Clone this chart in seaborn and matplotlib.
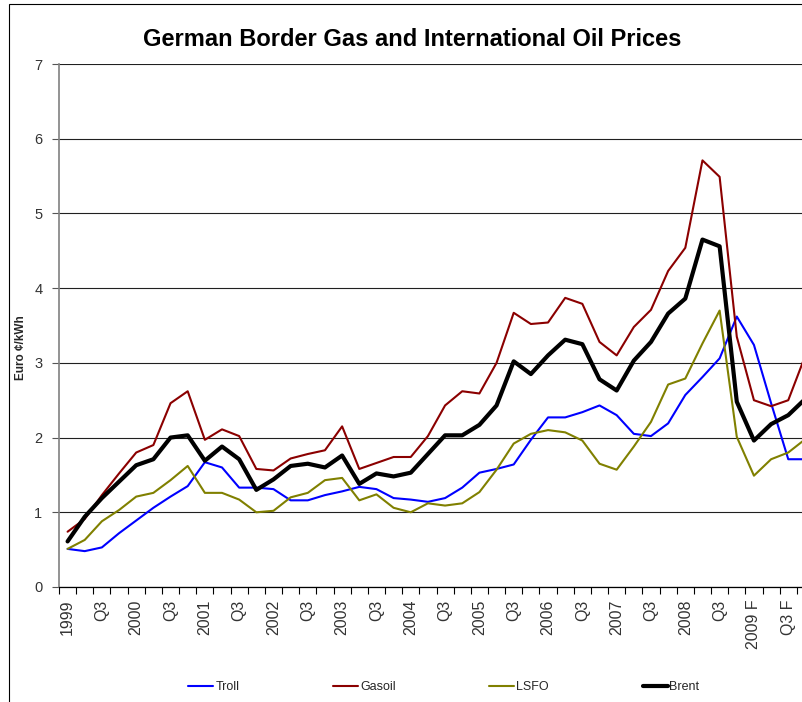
import numpy as np
import pandas as pd
import seaborn as sns
import matplotlib
matplotlib.use('Agg')
import matplotlib.pyplot as plt
from matplotlib.patches import Rectangle

# quarterly prices, 1999 Q1 .. 2009 Q4 F (Euro cent / kWh)
troll = [0.51, 0.48, 0.53, 0.72, 0.89, 1.06, 1.21, 1.35, 1.67, 1.60, 1.33,
         1.33, 1.31, 1.16, 1.16, 1.23, 1.28, 1.34, 1.31, 1.19, 1.17, 1.14,
         1.19, 1.33, 1.53, 1.58, 1.64, 1.97, 2.27, 2.27, 2.34, 2.43, 2.30,
         2.05, 2.02, 2.19, 2.57, 2.81, 3.06, 3.62, 3.24, 2.46, 1.71, 1.71]
gasoil = [0.74, 0.91, 1.23, 1.52, 1.80, 1.90, 2.46, 2.62, 1.97, 2.11, 2.02,
          1.58, 1.56, 1.72, 1.78, 1.83, 2.15, 1.58, 1.66, 1.74, 1.74, 2.02,
          2.43, 2.62, 2.59, 3.00, 3.67, 3.52, 3.54, 3.87, 3.79, 3.28, 3.10,
          3.48, 3.71, 4.23, 4.54, 5.71, 5.49, 3.35, 2.50, 2.42, 2.50, 3.10]
lsfo = [0.51, 0.63, 0.88, 1.03, 1.21, 1.26, 1.43, 1.62, 1.26, 1.26, 1.17,
        1.00, 1.02, 1.20, 1.26, 1.43, 1.46, 1.16, 1.24, 1.06, 1.00, 1.12,
        1.09, 1.12, 1.27, 1.57, 1.92, 2.05, 2.10, 2.07, 1.96, 1.65, 1.57,
        1.88, 2.21, 2.71, 2.79, 3.26, 3.70, 2.01, 1.49, 1.71, 1.80, 1.98]
brent = [0.61, 0.94, 1.19, 1.41, 1.63, 1.71, 2.00, 2.03, 1.69, 1.88, 1.71,
         1.30, 1.44, 1.62, 1.65, 1.60, 1.76, 1.38, 1.52, 1.48, 1.53, 1.78,
         2.03, 2.03, 2.17, 2.43, 3.02, 2.85, 3.10, 3.31, 3.25, 2.78, 2.63,
         3.03, 3.28, 3.66, 3.86, 4.65, 4.56, 2.48, 1.96, 2.18, 2.30, 2.52]

# labels shown on every second quarter
tick_labels = ["1999", "Q3", "2000", "Q3", "2001", "Q3", "2002", "Q3",
               "2003", "Q3", "2004", "Q3", "2005", "Q3", "2006", "Q3",
               "2007", "Q3", "2008", "Q3", "2009 F", "Q3 F"]

series_names = ["Troll", "Gasoil", "LSFO", "Brent"]
series_colors = ["#0000FF", "#8B0000", "#808000", "#000000"]
series_widths = [1.5, 1.5, 1.5, 3.0]

n = len(brent)
df = pd.DataFrame({"pos": np.arange(n), "Troll": troll, "Gasoil": gasoil,
                   "LSFO": lsfo, "Brent": brent})

sns.set_theme(style="white")
plt.rcParams['font.family'] = ['Liberation Sans', 'DejaVu Sans']

fig = plt.figure(figsize=(8.02, 7.02), dpi=100)
# plot area runs past the right edge, like the cropped original
ax = fig.add_axes([59 / 802, 115 / 702, 755 / 802, 523 / 702])

for name, col, lw in zip(series_names, series_colors, series_widths):
    sns.lineplot(data=df, x="pos", y=name, color=col, linewidth=lw, ax=ax,
                 legend=False, zorder=3)

ax.set_xlim(-0.5, n - 0.5)
ax.set_ylim(0, 7)
ax.set_yticks(range(8))
ax.yaxis.grid(True, color="#202020", linewidth=0.8)
ax.xaxis.grid(False)
ax.set_xlabel("")
ax.set_ylabel("")

ax.set_xticks(np.arange(0, n, 2)[:len(tick_labels)], tick_labels, rotation=90)
ax.set_xticks(np.arange(-0.5, n, 1), minor=True)
ax.tick_params(axis="x", which="major", length=0, pad=9, labelsize=11.5,
               labelcolor="#333333")
ax.tick_params(axis="x", which="minor", bottom=True, length=5, width=0.8,
               direction="out", color="black")
ax.tick_params(axis="y", left=True, length=5, width=0.8, direction="out",
               color="#555555", pad=7, labelsize=10.5, labelcolor="#333333")

for side in ["top", "right"]:
    ax.spines[side].set_visible(False)
ax.spines["left"].set_color("#808080")
ax.spines["left"].set_linewidth(1.2)
ax.spines["bottom"].set_color("black")
ax.spines["bottom"].set_linewidth(0.9)

fig.text(412 / 802, 1 - 40 / 702, "German Border Gas and International Oil Prices",
         ha="center", va="center", fontsize=17, fontweight="bold", color="black")
fig.text(21 / 802, 1 - 348 / 702, "Euro ¢/kWh", rotation=90, ha="center",
         va="center", fontsize=8.5, fontweight="bold")

handles = ax.get_lines()[:len(series_names)]
fig.legend(handles, series_names, loc="center", bbox_to_anchor=(444 / 802, 15 / 702),
           ncol=4, frameon=False, fontsize=9, handlelength=2.0,
           handletextpad=0.15, columnspacing=7.5)

# chart border (cropped on the right and bottom)
fig.patches.append(Rectangle((9 / 802, -0.05), 1.2, 0.05 + 1 - 4 / 702,
                             transform=fig.transFigure, fill=False,
                             edgecolor="black", linewidth=0.8))

fig.savefig("out.png", dpi=100)
